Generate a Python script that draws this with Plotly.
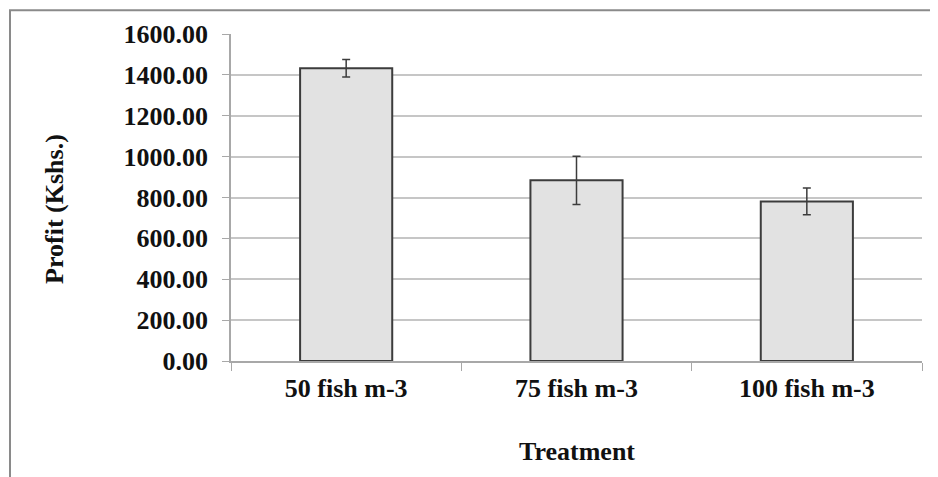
import plotly.graph_objects as go

categories = ["50 fish m-3", "75 fish m-3", "100 fish m-3"]
profit = [1432, 884, 781]
profit_err = [43, 118, 65]
y_ticks = [0, 200, 400, 600, 800, 1000, 1200, 1400, 1600]

# the page body has an 8px margin, so the figure is drawn from (8, 8)
OFF = 8
W, H = 938 - OFF, 477 - OFF
L, R, T, B = 231 - OFF, 16, 32 - OFF, 116
pw, ph = W - L - R, H - T - B

def px(x):
    return (x - OFF - L) / pw

def py(y):
    return (H - B - (y - OFF)) / ph

font_family = "Liberation Serif, Times New Roman, serif"
FS = 26

fig = go.Figure()
fig.add_trace(go.Bar(
    x=categories, y=profit,
    marker=dict(color="#e2e2e2", line=dict(color="#3c3c3c", width=2)),
    error_y=dict(type="data", array=profit_err, visible=True,
                 color="#3c3c3c", thickness=1.5, width=4),
    width=0.4,
))

fig.update_layout(
    width=W, height=H,
    margin=dict(l=L, r=R, t=T, b=B),
    paper_bgcolor="white", plot_bgcolor="white",
    showlegend=False,
    font=dict(family=font_family, color="#111111"),
    xaxis=dict(
        showline=True, linecolor="#a8a8a8", linewidth=1.5,
        ticks="outside", tickson="boundaries", ticklen=8, tickcolor="#a8a8a8",
        tickfont=dict(family=font_family, size=FS, color="#111111", weight="bold"),
        showgrid=False, ticklabelstandoff=3,
    ),
    yaxis=dict(
        range=[0, 1600], tickvals=y_ticks, tickformat=".2f",
        showline=True, linecolor="#a8a8a8", linewidth=1.5,
        ticks="outside", ticklen=7, tickcolor="#a8a8a8",
        showgrid=True, gridcolor="#c6c6c6", gridwidth=1.5,
        tickfont=dict(family=font_family, size=FS, color="#111111", weight="bold"),
        ticklabelstandoff=9, zeroline=False,
    ),
    annotations=[
        dict(text="Profit (Kshs.)", xref="paper", yref="paper",
             x=px(55), y=py(208), textangle=-90, showarrow=False,
             xanchor="center", yanchor="middle",
             font=dict(family=font_family, size=FS, color="#111111", weight="bold")),
        dict(text="Treatment", xref="paper", yref="paper",
             x=px(577), y=py(452), showarrow=False,
             xanchor="center", yanchor="middle",
             font=dict(family=font_family, size=FS, color="#111111", weight="bold")),
    ],
    shapes=[
        dict(type="rect", xref="paper", yref="paper",
             x0=px(10), x1=px(960), y0=py(500), y1=py(8),
             line=dict(color="#8a8a8a", width=2), fillcolor="rgba(0,0,0,0)",
             layer="below"),
    ],
)

fig.write_html("out.html")
